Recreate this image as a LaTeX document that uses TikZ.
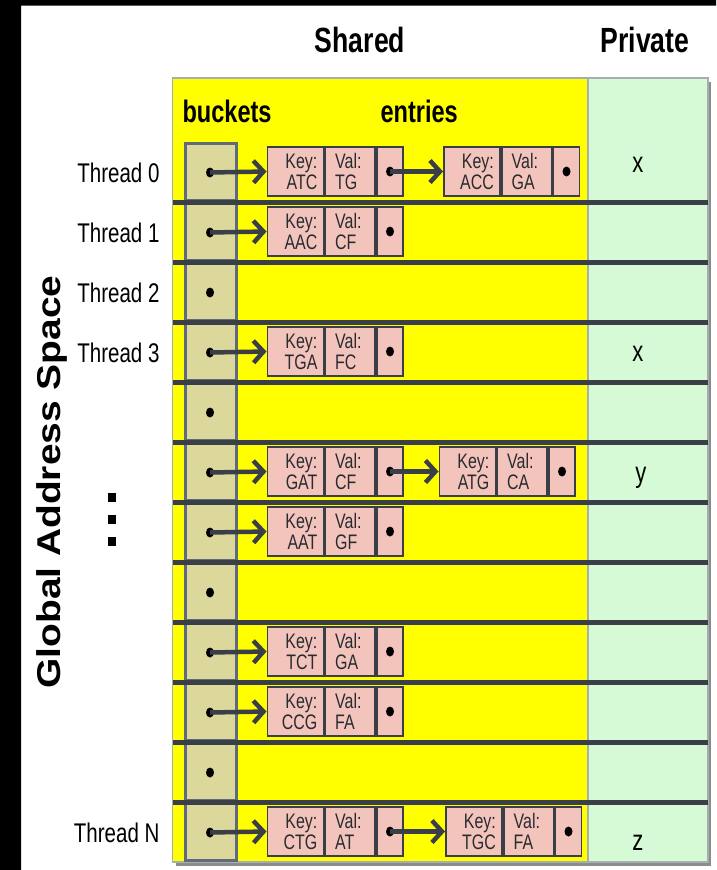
\documentclass[tikz,border=0pt]{standalone}
\usepackage{fontspec}
\setmainfont{Liberation Sans}
\newfontfamily\narrowfont[FakeStretch=0.76]{Liberation Sans}
\usetikzlibrary{arrows.meta,positioning}
\definecolor{sharedc}{HTML}{FFFF00}
\definecolor{privc}{HTML}{D6FAD6}
\definecolor{panelrim}{HTML}{A6AEB0}
\definecolor{bucketc}{HTML}{DCD89C}
\definecolor{bucketrim}{HTML}{5F6B79}
\definecolor{entryc}{HTML}{F2C4BC}
\definecolor{ink}{HTML}{3A3E46}
\tikzset{
  cellbase/.style={draw=ink,fill=entryc,line width=1.8pt,minimum height=49pt,inner sep=0pt,
    font=\narrowfont\fontsize{21}{21}\selectfont,text=ink!70!black},
  keycell/.style={cellbase,minimum width=56pt,text width=44pt,align=right,anchor=west},
  valcell/.style={cellbase,minimum width=50pt,text width=30pt,align=left},
  ptrcell/.style={cellbase,minimum width=26pt},
  bucket/.style={draw=bucketrim,fill=bucketc,line width=3pt},
  divider/.style={draw=ink,line width=4.5pt},
  ptr/.style={-{Straight Barb[length=10pt,width=22pt]},line width=4.5pt,draw=ink},
  head/.style={font=\narrowfont\bfseries\fontsize{35}{38}\selectfont,anchor=base},
  sub/.style={font=\narrowfont\bfseries\fontsize{31}{34}\selectfont,anchor=base west},
  thread/.style={font=\narrowfont\fontsize{27}{30}\selectfont,anchor=base east},
  privvar/.style={font=\narrowfont\fontsize{29}{32}\selectfont,anchor=base},
}

\begin{document}
\begin{tikzpicture}[x=1pt,y=-1pt]
  \useasboundingbox (0,0) rectangle (716,870);
  \fill[black] (0,0) rectangle (21,870) (0,0) rectangle (716,5.5);

  % panels
  \fill[black!45] (176,82) rectangle (711,866);
  \draw[panelrim,fill=sharedc,line width=1.5pt] (172.5,78) rectangle (588,862);
  \draw[panelrim,fill=privc,line width=1.5pt] (588,78) rectangle (708,862);

  \node[head] (shared) at (360,52) {Shared};
  \node[head] (private) at (645,52) {Private};
  \node[sub] (buckets) at (179,122) {buckets};
  \node[sub] (entries) at (377,122) {entries};

  % bucket cells
  \foreach \i in {0,...,11}
    \draw[bucket] (185,143.5+60*\i) rectangle (236,200+60*\i);
  \foreach \i in {0,...,10}
    \draw[divider] (172.5,202.5+60*\i) -- (708,202.5+60*\i);
  \foreach \i in {0,...,11}{
    \coordinate (d\i) at (210,172.5+60*\i);
    \fill (d\i) ellipse (4 and 5);
  }

  % first entry of each chain
  \foreach \r/\k/\v in {0/ATC/TG,1/AAC/CF,3/TGA/FC,5/GAT/CF,6/AAT/GF,8/TCT/GA,9/CCG/FA,11/CTG/AT}{
    \node[keycell] (k\r) at (266.5,171.5+60*\r) {Key:\\\k};
    \node[valcell,right=0pt of k\r] (v\r) {Val:\\\v};
    \node[ptrcell,right=0pt of v\r] (p\r) {};
    \fill (p\r.center) ellipse (4 and 5);
    \draw[ptr] (d\r) -- (k\r.west);
  }

  % second entry
  \foreach \r/\x/\k/\v in {0/443/ACC/GA,5/438.5/ATG/CA,11/445/TGC/FA}{
    \node[keycell] (nk\r) at (\x,171.5+60*\r) {Key:\\\k};
    \node[valcell,right=0pt of nk\r] (nv\r) {Val:\\\v};
    \node[ptrcell,right=0pt of nv\r] (np\r) {};
    \fill (np\r.center) ellipse (4 and 5);
    \draw[ptr] (p\r.center) -- (nk\r.west);
  }

  \node[thread] (t0) at (163,182) {Thread 0};
  \node[thread] (t1) at (163,242) {Thread 1};
  \node[thread] (t2) at (163,302) {Thread 2};
  \node[thread] (t3) at (163,362) {Thread 3};
  \node[thread] (tn) at (163,842) {Thread N};

  \node[privvar] (x0) at (638,172) {x};
  \node[privvar] (x3) at (638,361) {x};
  \node[privvar] (y5) at (641,482) {y};
  \node[privvar] (z11) at (638,850) {z};

  \node[rotate=90,anchor=base,font=\bfseries\fontsize{33}{35}\selectfont,xscale=1.18] (gas) at (60,482) {Global Address Space};
  \foreach \j in {0,1,2}
    \fill (108,493+22*\j) rectangle (116,502+22*\j);
\end{tikzpicture}
\end{document}
